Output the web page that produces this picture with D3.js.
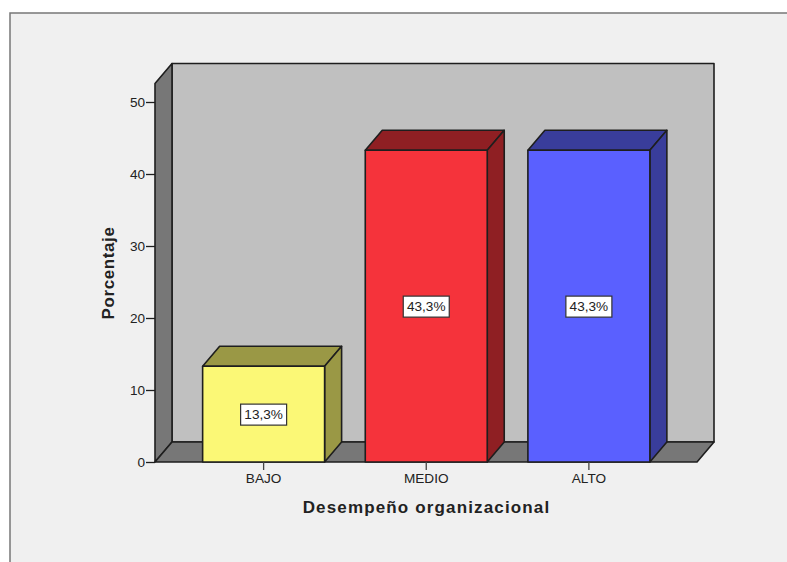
<!DOCTYPE html>
<html>
<head>
<meta charset="utf-8">
<script src="https://cdn.jsdelivr.net/npm/d3@7/dist/d3.min.js"></script>
<style>
html,body{margin:0;padding:0;background:#fff;}
svg{display:block;}
text{font-family:"Liberation Sans",Arial,sans-serif;fill:#222;}
</style>
</head>
<body>
<svg id="chart" width="787" height="562"></svg>
<script>
// Frequency table for the organisational performance variable
const categories = ["BAJO", "MEDIO", "ALTO"];
const percentages = [13.3, 43.3, 43.3];
const valueLabels = ["13,3%", "43,3%", "43,3%"];
const frontColors = ["#fbf876", "#f5333b", "#5a60ff"];
const shadeColors = ["#9a9845", "#8f1f23", "#393d9b"];
const yTicks = [0, 10, 20, 30, 40, 50];
const yTitle = "Porcentaje";
const xTitle = "Desempeño organizacional";

const svg = d3.select("#chart");
const depthX = 17, depthY = -20;
const line = "#1e1e1e";

const y = d3.scaleLinear().domain([0, 50]).range([462, 102]);
const x = d3.scaleBand().domain(categories).range([182.3, 670.2]).paddingInner(0.25).paddingOuter(0.125);
const left = 155, right = 697, floorY = y(0), topY = 83.5;

// Outer panel: light fill with a grey edge on the top and left
svg.append("rect").attr("x", 10).attr("y", 13).attr("width", 790).attr("height", 560)
  .attr("fill", "#f0f0f0").attr("stroke", "#777").attr("stroke-width", 1.5);

const poly = (pts, fill, sw = 1.6) => svg.append("polygon")
  .attr("points", pts.map(p => p.join(",")).join(" "))
  .attr("fill", fill).attr("stroke", line).attr("stroke-width", sw).attr("stroke-linejoin", "round");

// Box: back wall, left wall, floor
poly([[left + depthX, topY + depthY], [right + depthX, topY + depthY], [right + depthX, floorY + depthY], [left + depthX, floorY + depthY]], "#c0c0c0");
poly([[left, topY], [left + depthX, topY + depthY], [left + depthX, floorY + depthY], [left, floorY]], "#777777");
poly([[left, floorY], [left + depthX, floorY + depthY], [right + depthX, floorY + depthY], [right, floorY]], "#777777");

// Extruded bars
const bars = svg.append("g");
categories.forEach((c, i) => {
  const x0 = x(c), x1 = x0 + x.bandwidth(), yTop = y(percentages[i]);
  const p = (pts, fill) => bars.append("polygon")
    .attr("points", pts.map(q => q.join(",")).join(" "))
    .attr("fill", fill).attr("stroke", line).attr("stroke-width", 1.6).attr("stroke-linejoin", "round");
  p([[x0, yTop], [x0 + depthX, yTop + depthY], [x1 + depthX, yTop + depthY], [x1, yTop]], shadeColors[i]);
  p([[x1, yTop], [x1 + depthX, yTop + depthY], [x1 + depthX, floorY + depthY], [x1, floorY]], shadeColors[i]);
  p([[x0, yTop], [x1, yTop], [x1, floorY], [x0, floorY]], frontColors[i]);

  // Value label in a white box at mid-height of the bar
  const cx = x0 + x.bandwidth() / 2, cy = y(percentages[i] / 2);
  bars.append("rect").attr("x", cx - 23).attr("y", cy - 10).attr("width", 46).attr("height", 21)
    .attr("fill", "#fff").attr("stroke", "#333").attr("stroke-width", 1.2);
  bars.append("text").attr("x", cx).attr("y", cy + 5).attr("text-anchor", "middle")
    .attr("font-size", 13.6).text(valueLabels[i]);
});

// Value axis
const yAxis = svg.append("g").attr("transform", `translate(${left},0)`)
  .call(d3.axisLeft(y).tickValues(yTicks).tickSize(9).tickPadding(1).tickFormat(d3.format("d")));
yAxis.select(".domain").remove();
yAxis.selectAll("line").attr("stroke", line).attr("stroke-width", 1.3);
yAxis.selectAll("text").attr("font-size", 13.6).attr("font-family", '"Liberation Sans",Arial,sans-serif').attr("fill", "#222");

// Category axis
const xAxis = svg.append("g").attr("transform", `translate(0,${floorY})`)
  .call(d3.axisBottom(x).tickSize(8).tickPadding(3));
xAxis.select(".domain").remove();
xAxis.selectAll("line").attr("stroke", "#444").attr("stroke-width", 1.3);
xAxis.selectAll("text").attr("font-size", 13.6).attr("font-family", '"Liberation Sans",Arial,sans-serif').attr("fill", "#222");

// Axis titles
svg.append("text").attr("transform", "translate(114,273) rotate(-90)").attr("text-anchor", "middle")
  .attr("font-size", 17).attr("font-weight", "bold").attr("fill", "#111").attr("letter-spacing", 0.6).text(yTitle);
svg.append("text").attr("x", 426.5).attr("y", 513).attr("text-anchor", "middle")
  .attr("font-size", 17).attr("font-weight", "bold").attr("fill", "#111").attr("letter-spacing", 1.15).text(xTitle);
</script>
</body>
</html>
